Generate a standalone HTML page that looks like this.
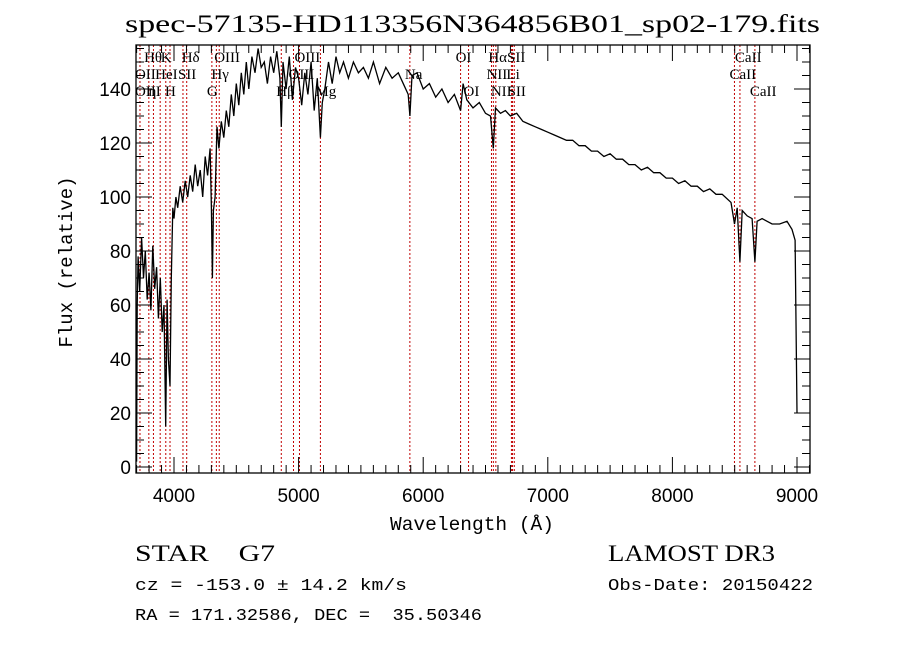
<!DOCTYPE html>
<html><head><meta charset="utf-8"><style>
body{margin:0;background:#fff;}
svg{display:block;font-family:"Liberation Serif",serif;}
text{white-space:pre;}
</style></head><body>
<svg id="c" width="900" height="649">
<rect width="900" height="649" fill="#fff"/>
<text x="125" y="32" font-size="25" textLength="695" lengthAdjust="spacingAndGlyphs">spec-57135-HD113356N364856B01_sp02-179.fits</text>
<g id="plot"></g>
<text x="390" y="530" font-size="19" textLength="164" lengthAdjust="spacingAndGlyphs" font-family="Liberation Mono, monospace">Wavelength (Å)</text>
<text transform="translate(72,262) rotate(-90)" text-anchor="middle" font-size="19" font-family="Liberation Mono, monospace">Flux (relative)</text>
<text x="135" y="561" font-size="23" textLength="140" lengthAdjust="spacingAndGlyphs">STAR    G7</text>
<text x="608" y="561" font-size="23" textLength="167" lengthAdjust="spacingAndGlyphs">LAMOST DR3</text>
<text x="135" y="590" font-size="17" textLength="272" lengthAdjust="spacingAndGlyphs" font-family="Liberation Mono, monospace">cz = -153.0 ± 14.2 km/s</text>
<text x="608" y="590" font-size="17" textLength="205" lengthAdjust="spacingAndGlyphs" font-family="Liberation Mono, monospace">Obs-Date: 20150422</text>
<text x="135" y="620" font-size="17" textLength="347" lengthAdjust="spacingAndGlyphs" font-family="Liberation Mono, monospace">RA = 171.32586, DEC =  35.50346</text>
</svg>
<script>
const wave=[3700,3705,3712,3725,3740,3755,3770,3785,3800,3815,
3830,3845,3860,3875,3890,3905,3920,3933,3945,3955,
3968,3978,3990,4000,4015,4030,4050,4070,4090,4110,
4130,4150,4170,4190,4210,4230,4250,4270,4290,4300,
4308,4316,4330,4345,4360,4380,4400,4420,4440,4460,
4480,4500,4520,4540,4560,4580,4600,4625,4650,4675,
4700,4725,4750,4775,4800,4825,4850,4861,4875,4900,
4925,4950,4975,5000,5025,5050,5075,5100,5125,5150,
5175,5190,5210,5240,5270,5300,5330,5360,5400,5440,
5480,5520,5560,5600,5650,5700,5750,5800,5850,5880,
5893,5910,5950,6000,6050,6100,6150,6200,6250,6300,
6320,6350,6400,6450,6500,6540,6563,6580,6620,6660,
6700,6750,6800,6850,6900,6950,7000,7050,7100,7150,
7200,7250,7300,7350,7400,7450,7500,7550,7600,7650,
7700,7750,7800,7850,7900,7950,8000,8050,8100,8150,
8200,8250,8300,8350,8400,8470,8498,8520,8542,8560,
8600,8640,8662,8680,8720,8760,8800,8860,8920,8960,
8985,9000];
const flux=[2,60,78,65,85,70,80,62,72,58,
82,66,74,55,70,50,60,15,62,40,
30,70,96,92,100,96,104,98,106,100,
108,102,112,104,110,100,115,108,118,96,
70,95,100,126,118,128,122,132,126,138,
130,142,134,146,138,150,140,152,146,155,
148,150,142,152,146,154,144,126,150,140,
152,136,148,144,134,146,138,150,132,144,
122,135,140,150,142,152,146,150,144,150,
146,148,144,150,142,148,144,146,141,138,
130,145,146,140,142,137,140,135,138,132,
142,136,133,135,131,130,118,133,131,132,
130,131,128,127,126,125,124,123,122,121,
121,119,119,117,117,115,116,114,114,112,
112,110,111,109,109,107,107,105,106,104,
104,102,103,101,101,98,90,96,76,95,
93,92,76,91,92,91,90,90,91,88,
84,20];
const yTicks=[0,20,40,60,80,100,120,140];
const xTicks=[4000,5000,6000,7000,8000,9000];
const lineWaves=[3727,3798,3835,3889,3934,3968,4072,4102,4304,4340,4363,4861,4959,5007,5175,5893,6300,6364,6548,6563,6583,6708,6717,6731,8498,8542,8662];
const lineLabels=[["Hθ",3800,0],["K",3934,0],["Hδ",4102,0],["OIII",4363,0],["OIII",5007,0],["OI",6300,0],["HαSII",6563,0],
["OII",3727,1],["HeI",3889,1],["SII",4072,1],["Hγ",4340,1],["OIII",4959,1],["Na",5893,1],["NII",6548,1],["Li",6708,1],
["OIII",3727,2],["η",3835,2],["H",3968,2],["G",4304,2],["Hβ",4861,2],["Mg",5175,2],["OI",6364,2],["NII",6583,2],["SII",6717,2],
["CaII",8498,1],["CaII",8542,0],["CaII",8662,2]];
const L=136,R=810,T=45,B=473;
const X=w=>174+(w-4000)*0.1246;
const Y=f=>467-f*2.7;
const NS="http://www.w3.org/2000/svg";
const g=document.getElementById('plot');
function mk(t,a){const e=document.createElementNS(NS,t);for(const k in a)e.setAttribute(k,a[k]);g.appendChild(e);return e;}
lineWaves.forEach(w=>{const e=mk('line',{x1:X(w),x2:X(w),y1:T,y2:B,stroke:'#c00000','stroke-width':1,'stroke-dasharray':'2,2'});

});
lineLabels.forEach(l=>{const e=mk('text',{x:X(l[1])-5,y:62+l[2]*17,'font-size':15});e.textContent=l[0];

});
let d='';wave.forEach((w,i)=>{d+=(i?'L':'M')+X(w).toFixed(1)+','+Math.max(T,Y(flux[i])).toFixed(1);});
const p=mk('path',{d:d,fill:'none',stroke:'#000','stroke-width':1.3});


const fr=mk('rect',{x:L,y:T,width:R-L,height:B-T,fill:'none',stroke:'#000','stroke-width':1.3});


for(let w=3700;w<=9100;w+=100){const big=w%1000===0;const x=X(w);if(x<L||x>R)continue;
mk('line',{x1:x,x2:x,y1:B,y2:B-(big?16:8),stroke:'#000'});mk('line',{x1:x,x2:x,y1:T,y2:T+(big?16:8),stroke:'#000'});}
for(let f=0;f<=160;f+=5){const big=f%20===0;const y=Y(f);if(y<T)continue;
mk('line',{x1:L,x2:L+(big?16:8),y1:y,y2:y,stroke:'#000'});mk('line',{x1:R,x2:R-(big?16:8),y1:y,y2:y,stroke:'#000'});}
xTicks.forEach(w=>{const e=mk('text',{x:X(w),y:502,'text-anchor':'middle','font-size':19,'font-family':'Liberation Sans, sans-serif'});e.textContent=w;

});
yTicks.forEach(f=>{const e=mk('text',{x:131,y:Y(f)+7,'text-anchor':'end','font-size':19,'font-family':'Liberation Sans, sans-serif'});e.textContent=f;

});
</script>
</body></html>
